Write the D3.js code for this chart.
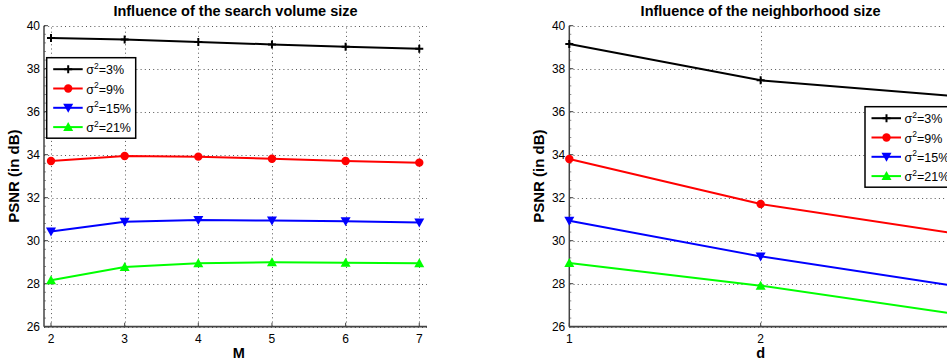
<!DOCTYPE html>
<html><head><meta charset="utf-8">
<script src="https://cdn.jsdelivr.net/npm/d3@7"></script>
<style>
body{margin:0;background:#fff;}
svg{display:block;font-family:"Liberation Sans",Arial,Helvetica,sans-serif;}
</style></head>
<body><svg id="c" width="947" height="362"></svg>
<script>
// ---- data ----
const mValues = [2, 3, 4, 5, 6, 7];
const dValues = [1, 2, 3];
const seriesLabels = ["3%", "9%", "15%", "21%"];
const seriesColors = ["#000000", "#ff0000", "#0000ff", "#00ff00"];
const seriesMarkers = ["plus", "circle", "triDown", "triUp"];
const leftS3  = [39.43, 39.36, 39.24, 39.13, 39.02, 38.93];
const leftS9  = [33.71, 33.94, 33.91, 33.81, 33.71, 33.63];
const leftS15 = [30.43, 30.88, 30.96, 30.94, 30.90, 30.85];
const leftS21 = [28.16, 28.78, 28.95, 29.00, 28.98, 28.95];
const rightS3  = [39.15, 37.46, 36.73];
const rightS9  = [33.80, 31.71, 30.36];
const rightS15 = [30.93, 29.27, 27.92];
const rightS21 = [28.96, 27.91, 26.62];
const yTicks = [26, 28, 30, 32, 34, 36, 38, 40];
const mTicks = [2, 3, 4, 5, 6, 7];
const dTicks = [1, 2, 3];

const W = 947;
const svg = d3.select("#c");

function marker(g, type, x, y, color) {
  if (type === "plus") {
    g.append("path").attr("d", `M${x-4},${y}H${x+4}M${x},${y-4}V${y+4}`)
      .attr("stroke", color).attr("stroke-width", 2);
  } else if (type === "circle") {
    g.append("circle").attr("cx", x).attr("cy", y).attr("r", 4.2).attr("fill", color);
  } else if (type === "triDown") {
    g.append("path").attr("d", `M${x-5},${y-4}L${x+5},${y-4}L${x},${y+5}Z`).attr("fill", color);
  } else {
    g.append("path").attr("d", `M${x-5},${y+4}L${x+5},${y+4}L${x},${y-5}Z`).attr("fill", color);
  }
}

function panel(opt) {
  const g = svg.append("g");
  const x = d3.scaleLinear().domain(opt.xDomain).range([opt.left, opt.right]);
  const y = d3.scaleLinear().domain([26, 40]).range([326.7, 25.7]);
  // grid
  const grid = g.append("g").attr("stroke", "#555").attr("stroke-width", 1)
    .attr("stroke-dasharray", "1,3.2").attr("fill", "none");
  yTicks.forEach(t => grid.append("line").attr("x1", opt.left).attr("x2", opt.right)
    .attr("y1", Math.round(y(t)) + 0.5).attr("y2", Math.round(y(t)) + 0.5));
  opt.xTicks.forEach(t => grid.append("line").attr("x1", Math.round(x(t)) + 0.5).attr("x2", Math.round(x(t)) + 0.5)
    .attr("y1", y(26)).attr("y2", y(40)));
  // axes
  const ax = g.append("g").attr("stroke", "#444");
  ax.append("line").attr("x1", opt.left).attr("x2", opt.right).attr("y1", y(26)).attr("y2", y(26)).attr("stroke-width", 1.8);
  ax.append("line").attr("x1", opt.left).attr("x2", opt.left).attr("y1", y(26)).attr("y2", y(40)).attr("stroke-width", 1.5);
  for (let v = 26; v <= 40.001; v += 0.4) ax.append("line").attr("x1", opt.left).attr("x2", opt.left + 2)
    .attr("y1", y(v)).attr("y2", y(v)).attr("stroke-width", 0.6);
  opt.xTicks.forEach(t => ax.append("line").attr("x1", x(t)).attr("x2", x(t)).attr("y1", y(26)).attr("y2", y(26) - 4).attr("stroke-width", 1));
  yTicks.forEach(t => ax.append("line").attr("x1", opt.left).attr("x2", opt.left + 4).attr("y1", y(t)).attr("y2", y(t)).attr("stroke-width", 1));
  // tick labels
  const tl = g.append("g").attr("font-size", 12).attr("fill", "#000");
  yTicks.forEach(t => tl.append("text").attr("x", opt.left - 4).attr("y", y(t)).attr("dy", "0.36em")
    .attr("text-anchor", "end").text(t));
  opt.xTicks.filter(t => x(t) < W - 4).forEach(t => tl.append("text").attr("x", x(t)).attr("y", 342.5)
    .attr("text-anchor", "middle").text(t));
  // titles
  g.append("text").attr("x", (opt.left + opt.right) / 2).attr("y", 15.5).attr("text-anchor", "middle")
    .attr("font-size", 14.5).attr("font-weight", "bold").text(opt.title);
  g.append("text").attr("x", x(opt.xLabelAt)).attr("y", 358).attr("text-anchor", "middle")
    .attr("font-size", 14.5).attr("font-weight", "bold").text(opt.xLabel);
  g.append("text").attr("transform", `translate(${opt.left - 25},${y(33)}) rotate(-90)`)
    .attr("text-anchor", "middle").attr("font-size", 15).attr("font-weight", "bold").text("PSNR (in dB)");
  // series
  const line = d3.line().x(d => x(d[0])).y(d => y(d[1]));
  opt.series.forEach((s, i) => {
    const pts = opt.xs.map((xv, j) => [xv, s[j]]);
    const sg = g.append("g");
    sg.append("path").datum(pts).attr("d", line).attr("fill", "none")
      .attr("stroke", seriesColors[i]).attr("stroke-width", 2);
    pts.forEach(p => marker(sg, seriesMarkers[i], x(p[0]), y(p[1]), seriesColors[i]));
  });
  // legend
  const L = opt.legend;
  const lg = g.append("g");
  lg.append("rect").attr("x", L.x).attr("y", L.y).attr("width", 89).attr("height", 80.5)
    .attr("fill", "#fff").attr("stroke", "#000").attr("stroke-width", 1.5);
  seriesLabels.forEach((lab, i) => {
    const ry = L.y + 11.5 + i * 19.3;
    lg.append("line").attr("x1", L.x + 6.5).attr("x2", L.x + 36).attr("y1", ry).attr("y2", ry)
      .attr("stroke", seriesColors[i]).attr("stroke-width", 2);
    marker(lg, seriesMarkers[i], L.x + 21.5, ry, seriesColors[i]);
    const t = lg.append("text").attr("x", L.x + 39.5).attr("y", ry + 5).attr("font-size", 12.5);
    t.append("tspan").text("σ");
    t.append("tspan").attr("font-size", 8.5).attr("dy", -5.5).text("2");
    t.append("tspan").attr("font-size", 12.5).attr("dy", 5.5).text("=" + lab);
  });
}

panel({id: 1, left: 44, right: 427, xDomain: [1.905, 7.105], xTicks: mTicks, xs: mValues,
  series: [leftS3, leftS9, leftS15, leftS21], title: "Influence of the search volume size",
  xLabel: "M", xLabelAt: 4.55, legend: {x: 46.7, y: 57.7}});
panel({id: 2, left: 569.3, right: 952, xDomain: [1, 3], xTicks: dTicks, xs: dValues,
  series: [rightS3, rightS9, rightS15, rightS21], title: "Influence of the neighborhood size",
  xLabel: "d", xLabelAt: 2, legend: {x: 865, y: 106.7}});
</script></body></html>
